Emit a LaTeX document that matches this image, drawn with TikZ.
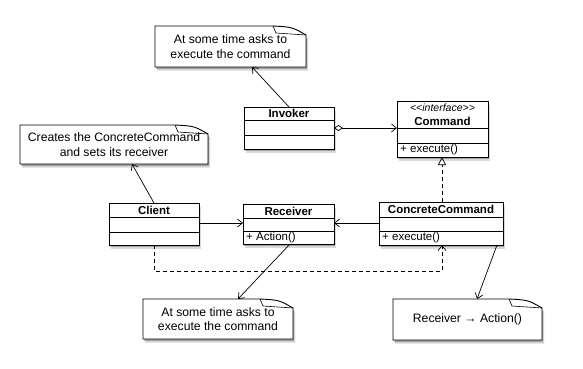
\documentclass[tikz,border=0pt]{standalone}
\usepackage{fontspec}
\setmainfont{Liberation Sans}
\usetikzlibrary{arrows.meta,shadows,backgrounds}
\tikzset{
  x=1pt, y=-1pt,
  classbox/.style={draw, line width=1pt, fill=white, inner sep=0pt, outer sep=0pt, anchor=north west,
    drop shadow={shadow xshift=2pt, shadow yshift=-3.5pt, opacity=0.15, fill=black},
    drop shadow={shadow xshift=1pt, shadow yshift=-2pt, opacity=0.25, fill=black}},
  rowline/.style={line width=0.8pt},
  hdr/.style={font=\fontsize{11.5}{13}\selectfont\bfseries, inner sep=0pt},
  ops/.style={font=\fontsize{11.5}{13}\selectfont, inner sep=0pt, anchor=west},
  notetext/.style={font=\fontsize{12.2}{14.5}\selectfont, align=center, inner sep=0pt, outer sep=0pt},
  noteline/.style={draw, line width=0.9pt, fill=white,
    drop shadow={shadow xshift=2pt, shadow yshift=-3.5pt, opacity=0.15, fill=black},
    drop shadow={shadow xshift=1pt, shadow yshift=-2pt, opacity=0.25, fill=black}},
  conn/.style={line width=0.7pt, -{Straight Barb[length=5pt,width=8pt,line width=0.7pt]}},
  dconn/.style={conn, dash pattern=on 4pt off 3pt},
}
% name, x, y, w, h, line1, line2, header, ops
\newcommand\umlclass[9]{%
  \node[classbox, minimum width=#4pt, minimum height=#5pt] (#1) at (#2,#3) {};
  \draw[rowline] ([yshift=-#6pt]#1.north west) -- ([yshift=-#6pt]#1.north east);
  \draw[rowline] ([yshift=-#7pt]#1.north west) -- ([yshift=-#7pt]#1.north east);
  \node[hdr, align=center] (#1-h) at ([yshift={-#6pt/2}]#1.north) {#8};
  \node[ops] (#1-o) at ([xshift=3pt, yshift={-(#7pt+#5pt)/2}]#1.north west) {#9};
}
% name, x, y, w, h, text
\newcommand\umlnote[6]{%
  \node[notetext, minimum width=#4pt, minimum height=#5pt, anchor=north west] (#1) at (#2,#3) {#6};
  \begin{scope}[on background layer]
    \draw[noteline] (#1.north west) -- ([xshift=-33pt]#1.north east)
      .. controls ([xshift=-14pt,yshift=-1pt]#1.north east) .. ([yshift=-9pt]#1.north east)
      -- (#1.south east) -- (#1.south west) -- cycle;
    \draw[line width=0.6pt] ([xshift=-33pt]#1.north east) -- ([xshift=-30pt,yshift=-7pt]#1.north east)
      -- ([yshift=-9pt]#1.north east);
  \end{scope}
}
\begin{document}
\begin{tikzpicture}
\begin{scope}[on background layer]
  \fill[white] (0,0) rectangle (583,368);
\end{scope}
\useasboundingbox (0,0) rectangle (583,368);

% classes
\umlclass{inv}{244}{107}{90}{42}{13}{28}{Invoker}{}
\umlclass{cmd}{397}{101}{91}{56}{27}{42}{{\fontsize{10.5}{12}\selectfont\mdseries\itshape <{}<interface>{}>}\\[1pt]Command}{+ execute()}
\umlclass{cl}{109}{203}{90}{42}{14}{29}{Client}{}
\umlclass{rec}{243}{204}{91}{40}{14}{27}{Receiver}{+ Action()}
\umlclass{cc}{379}{202}{124}{43}{15}{29}{ConcreteCommand}{+ execute()}

% notes
\umlnote{n1}{155}{26}{151}{41}{At some time asks to\\execute the command}
\umlnote{n2}{20}{125}{188}{39}{Creates the ConcreteCommand\\and sets its receiver}
\umlnote{n3}{143}{299}{150}{40}{At some time asks to\\execute the command}
\umlnote{n4}{393}{299}{149}{41}{Receiver → Action()}

% connectors
\draw[conn] ([xshift=45pt]inv.north west) -- ([xshift=97pt]n1.south west);
\draw[conn] ([xshift=45pt]cl.north west) -- ([xshift=112pt]n2.south west);
\draw[line width=0.7pt, {Diamond[open,length=9pt,width=6pt,line width=0.7pt]}-{Straight Barb[length=5pt,width=8pt,line width=0.7pt]}]
  ([yshift=-21pt]inv.north east) -- ([yshift=-27pt]cmd.north west);
\draw[line width=0.7pt, dash pattern=on 4pt off 3pt, -{Triangle[open,length=8pt,width=8pt,line width=0.7pt]}]
  ([xshift=63pt]cc.north west) -- ([xshift=45pt]cmd.south west);
\draw[conn] ([yshift=-20pt]cl.north east) -- ([yshift=-19pt]rec.north west);
\draw[conn] ([yshift=-21pt]cc.north west) -- ([yshift=-19pt]rec.north east);
\coordinate (dbase) at (300,271);
\draw[dconn] ([xshift=45pt]cl.south west) |- (dbase) -| ([xshift=63pt]cc.south west);
\draw[conn] ([xshift=47pt]rec.south west) -- ([xshift=95pt]n3.north west);
\draw[conn] ([xshift=118pt]cc.south west) -- ([xshift=84pt]n4.north west);
\end{tikzpicture}
\end{document}
